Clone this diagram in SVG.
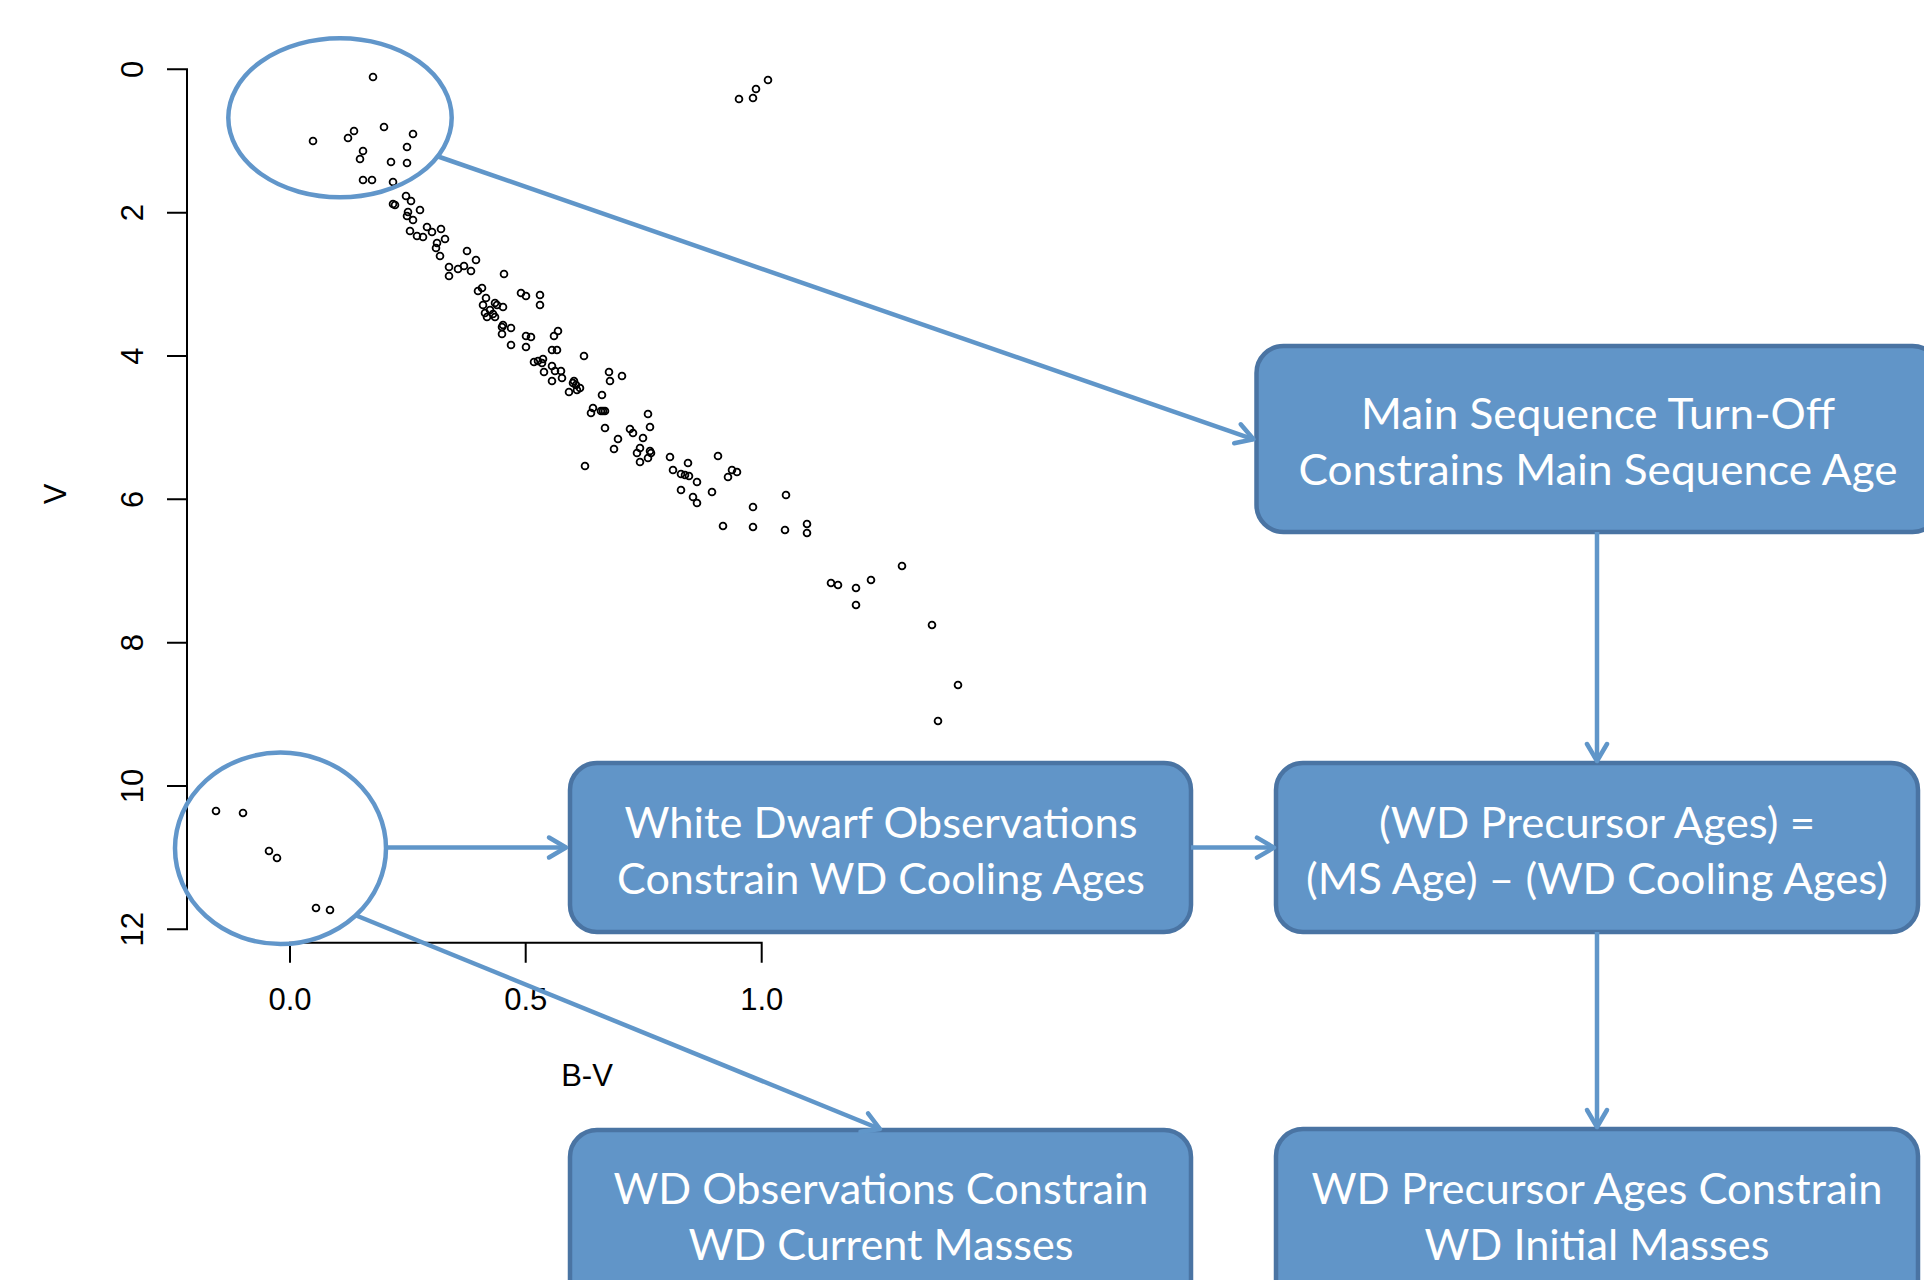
<svg xmlns="http://www.w3.org/2000/svg" width="1924" height="1280" viewBox="0 0 1924 1280">
<style>
.axis{stroke:#000;stroke-width:2;fill:none}
.tick{font-family:"Liberation Sans",Arial,sans-serif;font-size:31px;fill:#000}
.pt{fill:none;stroke:#000;stroke-width:1.8}
.ring{fill:none;stroke:#6196CA;stroke-width:4.5}
.box{fill:#6195C8;stroke:#4A74A3;stroke-width:4.5}
.lbl{font-family:Lato,"Open Sans",sans-serif;font-size:43px;fill:#fff;text-anchor:middle}
.conn{stroke:#6096C9;stroke-width:4.5;fill:none}
</style>
<defs>
<marker id="ah" markerUnits="userSpaceOnUse" orient="auto" refX="0" refY="0" markerWidth="40" markerHeight="40" viewBox="-20 -20 40 40" overflow="visible">
<path d="M-17,-10 L0,0 L-17,10" fill="none" stroke="#6096C9" stroke-width="4.5" stroke-linecap="round" stroke-linejoin="round"/>
</marker>
</defs>
<rect width="1924" height="1280" fill="#fff"/>

<g id="plot">
<path class="axis" d="M167,69.3 H187 V929.3 H167 M167,212.7 H187 M167,356 H187 M167,499.3 H187 M167,642.7 H187 M167,786 H187"/>
<path class="axis" d="M290,962.7 V942.7 H761.7 V962.7 M525.7,942.7 V962.7"/>
<g class="tick" text-anchor="middle">
<text transform="translate(143,69.3) rotate(-90)">0</text>
<text transform="translate(143,212.7) rotate(-90)">2</text>
<text transform="translate(143,356) rotate(-90)">4</text>
<text transform="translate(143,499.3) rotate(-90)">6</text>
<text transform="translate(143,642.7) rotate(-90)">8</text>
<text transform="translate(143,786) rotate(-90)">10</text>
<text transform="translate(143,929.3) rotate(-90)">12</text>
<text x="290" y="1010">0.0</text>
<text x="525.7" y="1010">0.5</text>
<text x="761.7" y="1010">1.0</text>
<text x="587" y="1086">B-V</text>
<text transform="translate(66,494) rotate(-90)">V</text>
</g>
<g id="points">
<circle class="pt" cx="373" cy="77" r="3.4"/><circle class="pt" cx="313" cy="141" r="3.4"/><circle class="pt" cx="348" cy="138" r="3.4"/><circle class="pt" cx="354" cy="131" r="3.4"/><circle class="pt" cx="384" cy="127" r="3.4"/><circle class="pt" cx="413" cy="134" r="3.4"/><circle class="pt" cx="407" cy="147" r="3.4"/><circle class="pt" cx="363" cy="151" r="3.4"/><circle class="pt" cx="360" cy="159" r="3.4"/><circle class="pt" cx="391" cy="162" r="3.4"/><circle class="pt" cx="407" cy="163" r="3.4"/><circle class="pt" cx="363" cy="180" r="3.4"/><circle class="pt" cx="372" cy="180" r="3.4"/><circle class="pt" cx="393" cy="182" r="3.4"/><circle class="pt" cx="406" cy="196" r="3.4"/><circle class="pt" cx="411" cy="201" r="3.4"/><circle class="pt" cx="393" cy="204" r="3.4"/><circle class="pt" cx="395" cy="205" r="3.4"/><circle class="pt" cx="420" cy="210" r="3.4"/><circle class="pt" cx="408" cy="212" r="3.4"/><circle class="pt" cx="407" cy="216" r="3.4"/><circle class="pt" cx="413" cy="220" r="3.4"/><circle class="pt" cx="427" cy="227" r="3.4"/><circle class="pt" cx="441" cy="229" r="3.4"/><circle class="pt" cx="410" cy="231" r="3.4"/><circle class="pt" cx="432" cy="232" r="3.4"/><circle class="pt" cx="417" cy="236" r="3.4"/><circle class="pt" cx="423" cy="237" r="3.4"/><circle class="pt" cx="445" cy="239" r="3.4"/><circle class="pt" cx="437" cy="243" r="3.4"/><circle class="pt" cx="436" cy="248" r="3.4"/><circle class="pt" cx="440" cy="256" r="3.4"/><circle class="pt" cx="467" cy="251" r="3.4"/><circle class="pt" cx="476" cy="260" r="3.4"/><circle class="pt" cx="449" cy="267" r="3.4"/><circle class="pt" cx="449" cy="276" r="3.4"/><circle class="pt" cx="458" cy="269" r="3.4"/><circle class="pt" cx="464" cy="266" r="3.4"/><circle class="pt" cx="471" cy="271" r="3.4"/><circle class="pt" cx="504" cy="274" r="3.4"/><circle class="pt" cx="482" cy="288" r="3.4"/><circle class="pt" cx="478" cy="291" r="3.4"/><circle class="pt" cx="521" cy="293" r="3.4"/><circle class="pt" cx="526" cy="296" r="3.4"/><circle class="pt" cx="540" cy="295" r="3.4"/><circle class="pt" cx="540" cy="305" r="3.4"/><circle class="pt" cx="486" cy="298" r="3.4"/><circle class="pt" cx="483" cy="305" r="3.4"/><circle class="pt" cx="495" cy="303" r="3.4"/><circle class="pt" cx="497" cy="305" r="3.4"/><circle class="pt" cx="503" cy="307" r="3.4"/><circle class="pt" cx="490" cy="310" r="3.4"/><circle class="pt" cx="485" cy="313" r="3.4"/><circle class="pt" cx="493" cy="314" r="3.4"/><circle class="pt" cx="487" cy="317" r="3.4"/><circle class="pt" cx="495" cy="317" r="3.4"/><circle class="pt" cx="503" cy="325" r="3.4"/><circle class="pt" cx="502" cy="327" r="3.4"/><circle class="pt" cx="511" cy="328" r="3.4"/><circle class="pt" cx="502" cy="334" r="3.4"/><circle class="pt" cx="511" cy="345" r="3.4"/><circle class="pt" cx="526" cy="336" r="3.4"/><circle class="pt" cx="531" cy="337" r="3.4"/><circle class="pt" cx="526" cy="347" r="3.4"/>
<circle class="pt" cx="558" cy="331" r="3.4"/><circle class="pt" cx="554" cy="336" r="3.4"/><circle class="pt" cx="552" cy="350" r="3.4"/><circle class="pt" cx="557" cy="350" r="3.4"/><circle class="pt" cx="584" cy="356" r="3.4"/><circle class="pt" cx="534" cy="362" r="3.4"/><circle class="pt" cx="538" cy="361" r="3.4"/><circle class="pt" cx="543" cy="359" r="3.4"/><circle class="pt" cx="542" cy="363" r="3.4"/><circle class="pt" cx="552" cy="366" r="3.4"/><circle class="pt" cx="555" cy="371" r="3.4"/><circle class="pt" cx="561" cy="371" r="3.4"/><circle class="pt" cx="544" cy="372" r="3.4"/><circle class="pt" cx="562" cy="378" r="3.4"/><circle class="pt" cx="552" cy="381" r="3.4"/><circle class="pt" cx="574" cy="381" r="3.4"/><circle class="pt" cx="573" cy="383" r="3.4"/><circle class="pt" cx="576" cy="385" r="3.4"/><circle class="pt" cx="580" cy="388" r="3.4"/><circle class="pt" cx="577" cy="390" r="3.4"/><circle class="pt" cx="569" cy="392" r="3.4"/><circle class="pt" cx="609" cy="372" r="3.4"/><circle class="pt" cx="610" cy="381" r="3.4"/><circle class="pt" cx="622" cy="376" r="3.4"/><circle class="pt" cx="602" cy="395" r="3.4"/><circle class="pt" cx="593" cy="408" r="3.4"/><circle class="pt" cx="591" cy="413" r="3.4"/><circle class="pt" cx="601" cy="411" r="3.4"/><circle class="pt" cx="603" cy="411" r="3.4"/><circle class="pt" cx="605" cy="411" r="3.4"/><circle class="pt" cx="605" cy="428" r="3.4"/><circle class="pt" cx="648" cy="414" r="3.4"/><circle class="pt" cx="650" cy="427" r="3.4"/><circle class="pt" cx="630" cy="429" r="3.4"/><circle class="pt" cx="633" cy="433" r="3.4"/><circle class="pt" cx="643" cy="438" r="3.4"/><circle class="pt" cx="618" cy="439" r="3.4"/><circle class="pt" cx="614" cy="449" r="3.4"/><circle class="pt" cx="640" cy="448" r="3.4"/><circle class="pt" cx="637" cy="453" r="3.4"/><circle class="pt" cx="650" cy="451" r="3.4"/><circle class="pt" cx="651" cy="453" r="3.4"/><circle class="pt" cx="648" cy="458" r="3.4"/><circle class="pt" cx="640" cy="462" r="3.4"/><circle class="pt" cx="585" cy="466" r="3.4"/><circle class="pt" cx="670" cy="457" r="3.4"/><circle class="pt" cx="688" cy="463" r="3.4"/><circle class="pt" cx="673" cy="470" r="3.4"/><circle class="pt" cx="681" cy="474" r="3.4"/><circle class="pt" cx="685" cy="475" r="3.4"/><circle class="pt" cx="689" cy="476" r="3.4"/><circle class="pt" cx="697" cy="482" r="3.4"/><circle class="pt" cx="718" cy="456" r="3.4"/><circle class="pt" cx="732" cy="470" r="3.4"/><circle class="pt" cx="737" cy="472" r="3.4"/><circle class="pt" cx="728" cy="477" r="3.4"/><circle class="pt" cx="681" cy="490" r="3.4"/><circle class="pt" cx="693" cy="497" r="3.4"/><circle class="pt" cx="712" cy="492" r="3.4"/><circle class="pt" cx="786" cy="495" r="3.4"/>
<circle class="pt" cx="697" cy="503" r="3.4"/><circle class="pt" cx="753" cy="507" r="3.4"/><circle class="pt" cx="723" cy="526" r="3.4"/><circle class="pt" cx="753" cy="527" r="3.4"/><circle class="pt" cx="785" cy="530" r="3.4"/><circle class="pt" cx="807" cy="524" r="3.4"/><circle class="pt" cx="807" cy="533" r="3.4"/><circle class="pt" cx="902" cy="566" r="3.4"/><circle class="pt" cx="831" cy="583" r="3.4"/><circle class="pt" cx="838" cy="585" r="3.4"/><circle class="pt" cx="856" cy="588" r="3.4"/><circle class="pt" cx="871" cy="580" r="3.4"/><circle class="pt" cx="856" cy="605" r="3.4"/><circle class="pt" cx="932" cy="625" r="3.4"/><circle class="pt" cx="958" cy="685" r="3.4"/><circle class="pt" cx="938" cy="721" r="3.4"/>
<circle class="pt" cx="739" cy="99" r="3.4"/><circle class="pt" cx="753" cy="98" r="3.4"/><circle class="pt" cx="756" cy="89" r="3.4"/><circle class="pt" cx="768" cy="80" r="3.4"/>
<circle class="pt" cx="216" cy="811" r="3.4"/><circle class="pt" cx="243" cy="813" r="3.4"/><circle class="pt" cx="269" cy="851" r="3.4"/><circle class="pt" cx="277" cy="858" r="3.4"/><circle class="pt" cx="316" cy="908" r="3.4"/><circle class="pt" cx="330" cy="910" r="3.4"/>
</g>
</g>

<g id="ring-turnoff"><ellipse class="ring" cx="340" cy="117.8" rx="111.7" ry="79.5"/></g>
<g id="ring-wd"><ellipse class="ring" cx="280.5" cy="848.3" rx="105.5" ry="95.7"/></g>

<g id="node-ms-turnoff">
<rect class="box" x="1256.5" y="346" width="683" height="186" rx="27"/>
<text class="lbl" x="1598" y="429" textLength="474" lengthAdjust="spacingAndGlyphs">Main Sequence Turn-Off</text>
<text class="lbl" x="1598" y="485" textLength="599" lengthAdjust="spacingAndGlyphs">Constrains Main Sequence Age</text>
</g>
<g id="node-wd-obs">
<rect class="box" x="570" y="763" width="621" height="169" rx="27"/>
<text class="lbl" x="881" y="838" textLength="513" lengthAdjust="spacingAndGlyphs">White Dwarf Observations</text>
<text class="lbl" x="881" y="894" textLength="528" lengthAdjust="spacingAndGlyphs">Constrain WD Cooling Ages</text>
</g>
<g id="node-precursor">
<rect class="box" x="1276" y="763" width="642" height="169" rx="27"/>
<text class="lbl" x="1597" y="838" textLength="436" lengthAdjust="spacingAndGlyphs">(WD Precursor Ages) =</text>
<text class="lbl" x="1597" y="894" textLength="582" lengthAdjust="spacingAndGlyphs">(MS Age) – (WD Cooling Ages)</text>
</g>
<g id="node-current-mass">
<rect class="box" x="570" y="1130" width="621" height="200" rx="27"/>
<text class="lbl" x="881" y="1204" textLength="535" lengthAdjust="spacingAndGlyphs">WD Observations Constrain</text>
<text class="lbl" x="881" y="1260" textLength="385" lengthAdjust="spacingAndGlyphs">WD Current Masses</text>
</g>
<g id="node-initial-mass">
<rect class="box" x="1276" y="1129" width="642" height="200" rx="27"/>
<text class="lbl" x="1597" y="1204" textLength="571" lengthAdjust="spacingAndGlyphs">WD Precursor Ages Constrain</text>
<text class="lbl" x="1597" y="1260" textLength="345" lengthAdjust="spacingAndGlyphs">WD Initial Masses</text>
</g>

<g id="connectors">
<path class="conn" marker-end="url(#ah)" d="M436.7,156 L1253.5,439.3"/>
<path class="conn" marker-end="url(#ah)" d="M1597,532 L1597,761"/>
<path class="conn" marker-end="url(#ah)" d="M1191,847.6 L1274,847.6"/>
<path class="conn" marker-end="url(#ah)" d="M1597,932 L1597,1127"/>
<path class="conn" marker-end="url(#ah)" d="M386,847.5 L566,847.5"/>
<path class="conn" marker-end="url(#ah)" d="M355,915 L880,1129"/>
</g>
</svg>
